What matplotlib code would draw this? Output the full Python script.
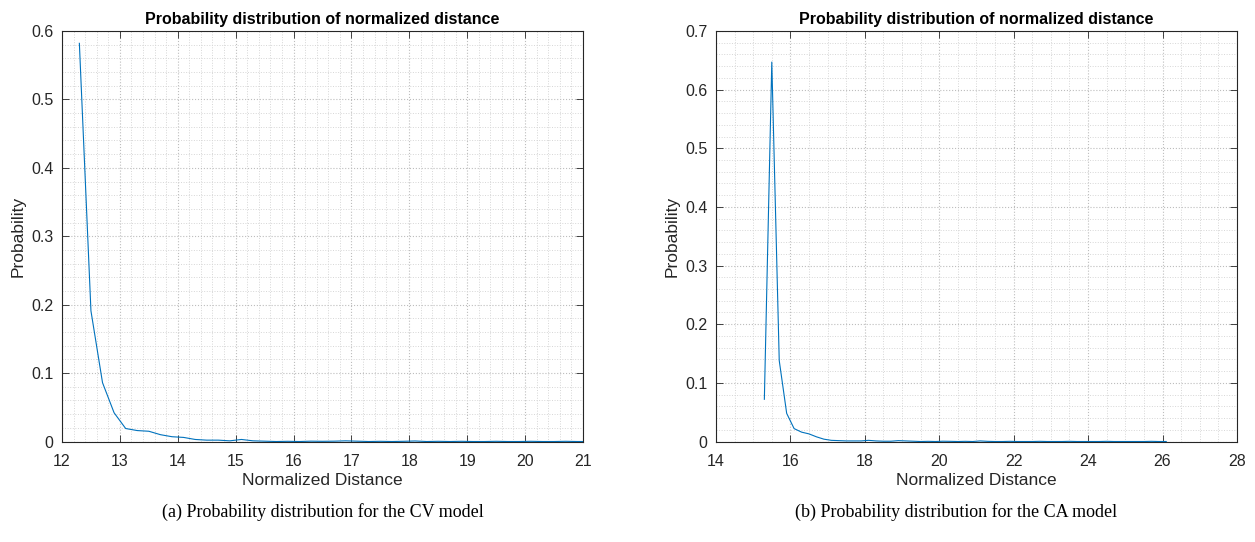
import numpy as np
import matplotlib
matplotlib.use("Agg")
import matplotlib.pyplot as plt
from matplotlib.ticker import MultipleLocator

plt.rcParams['font.family'] = ['Liberation Sans', 'DejaVu Sans']

# CV model (left)
cv_x = [12.3, 12.5, 12.7, 12.9, 13.1, 13.3, 13.5, 13.7, 13.9, 14.1,
        14.3, 14.5, 14.7, 14.9, 15.1, 15.3, 15.5, 15.7, 15.9, 16.1,
        16.3, 16.5, 16.7, 16.9, 17.1, 17.3, 17.5, 17.7, 17.9, 18.1,
        18.3, 18.5, 18.7, 18.9, 19.1, 19.3, 19.5, 19.7, 19.9, 20.1,
        20.3, 20.5, 20.7, 20.9, 21.1]
cv_y = [0.582, 0.191, 0.086, 0.042, 0.019, 0.016, 0.015, 0.010, 0.007, 0.006,
        0.003, 0.002, 0.002, 0.001, 0.003, 0.001, 0.0005, 0.0, 0.0003, 0.0,
        0.0005, 0.0003, 0.0005, 0.001, 0.0005, 0.0, 0.0003, 0.0, 0.0003, 0.0008,
        0.0, 0.0003, 0.0, 0.0003, 0.0, 0.0, 0.0003, 0.0, 0.0, 0.0003,
        0.0, 0.0, 0.0003, 0.0, 0.0]

# CA model (right)
ca_x = [15.3, 15.5, 15.7, 15.9, 16.1, 16.3, 16.5, 16.7, 16.9, 17.1,
        17.3, 17.5, 17.7, 17.9, 18.1, 18.3, 18.5, 18.7, 18.9, 19.1,
        19.3, 19.5, 19.7, 19.9, 20.1, 20.3, 20.5, 20.7, 20.9, 21.1,
        21.3, 21.5, 21.7, 21.9, 22.1, 22.3, 22.5, 22.7, 22.9, 23.1,
        23.3, 23.5, 23.7, 23.9, 24.1, 24.3, 24.5, 24.7, 24.9, 25.1,
        25.3, 25.5, 25.7, 25.9, 26.1]
ca_y = [0.072, 0.647, 0.138, 0.048, 0.022, 0.016, 0.013, 0.008, 0.004, 0.002,
        0.0015, 0.001, 0.001, 0.001, 0.002, 0.001, 0.0005, 0.0005, 0.0015, 0.001,
        0.0005, 0.0, 0.0003, 0.0, 0.0005, 0.0003, 0.0, 0.0003, 0.0, 0.001,
        0.0003, 0.0, 0.0, 0.0003, 0.0, 0.0, 0.0, 0.0003, 0.0, 0.0,
        0.0, 0.0003, 0.0, 0.0, 0.0, 0.0, 0.0003, 0.0, 0.0, 0.0,
        0.0, 0.0, 0.0003, 0.0, 0.0]

blue = '#0072BD'
dark = '#262626'

fig = plt.figure(figsize=(12.55, 5.42), dpi=100)
ax1 = fig.add_axes([0.0494, 0.1854, 0.4151, 0.7574])
ax2 = fig.add_axes([0.5705, 0.1854, 0.4151, 0.7574])


def style(ax, xlim, ylim, xmaj, xmin, ymaj, ymin):
    ax.set_xlim(xlim)
    ax.set_ylim(ylim)
    ax.xaxis.set_major_locator(MultipleLocator(xmaj))
    ax.xaxis.set_minor_locator(MultipleLocator(xmin))
    ax.yaxis.set_major_locator(MultipleLocator(ymaj))
    ax.yaxis.set_minor_locator(MultipleLocator(ymin))
    ax.grid(which='major', color='#bdbdbd', linestyle=':', linewidth=0.8)
    ax.grid(which='minor', color='#d6d6d6', linestyle=':', linewidth=0.7)
    ax.set_axisbelow(True)
    ax.tick_params(which='major', direction='in', top=True, right=True,
                   length=5, width=0.6, labelsize=11.5, colors=dark)
    ax.tick_params(axis='x', which='major', pad=9)
    ax.tick_params(axis='y', which='major', pad=6)
    ax.tick_params(which='minor', length=0)
    for s in ax.spines.values():
        s.set_color(dark)
        s.set_linewidth(0.8)
    ax.set_xlabel('Normalized Distance', fontsize=12.5, color=dark, labelpad=3)
    ax.set_ylabel('Probability', fontsize=12.5, color=dark, labelpad=4)
    ax.set_title('Probability distribution of normalized distance',
                 fontsize=11.5, fontweight='bold', pad=5)


ax1.plot(cv_x, cv_y, color=blue, linewidth=0.8)
style(ax1, (12, 21), (0, 0.6), 1, 0.2, 0.1, 0.02)
ax1.set_yticks([0, 0.1, 0.2, 0.3, 0.4, 0.5, 0.6])
ax1.set_yticklabels(['0', '0.1', '0.2', '0.3', '0.4', '0.5', '0.6'])

ax2.plot(ca_x, ca_y, color=blue, linewidth=0.8)
style(ax2, (14, 28), (0, 0.7), 2, 0.5, 0.1, 0.02)
ax2.set_yticks([0, 0.1, 0.2, 0.3, 0.4, 0.5, 0.6, 0.7])
ax2.set_yticklabels(['0', '0.1', '0.2', '0.3', '0.4', '0.5', '0.6', '0.7'])

fig.text(0.257, 0.055, '(a) Probability distribution for the CV model',
         ha='center', va='center', fontsize=13, family=['Liberation Serif', 'DejaVu Serif'])
fig.text(0.762, 0.055, '(b) Probability distribution for the CA model',
         ha='center', va='center', fontsize=13, family=['Liberation Serif', 'DejaVu Serif'])

fig.savefig('out.png', dpi=100)
